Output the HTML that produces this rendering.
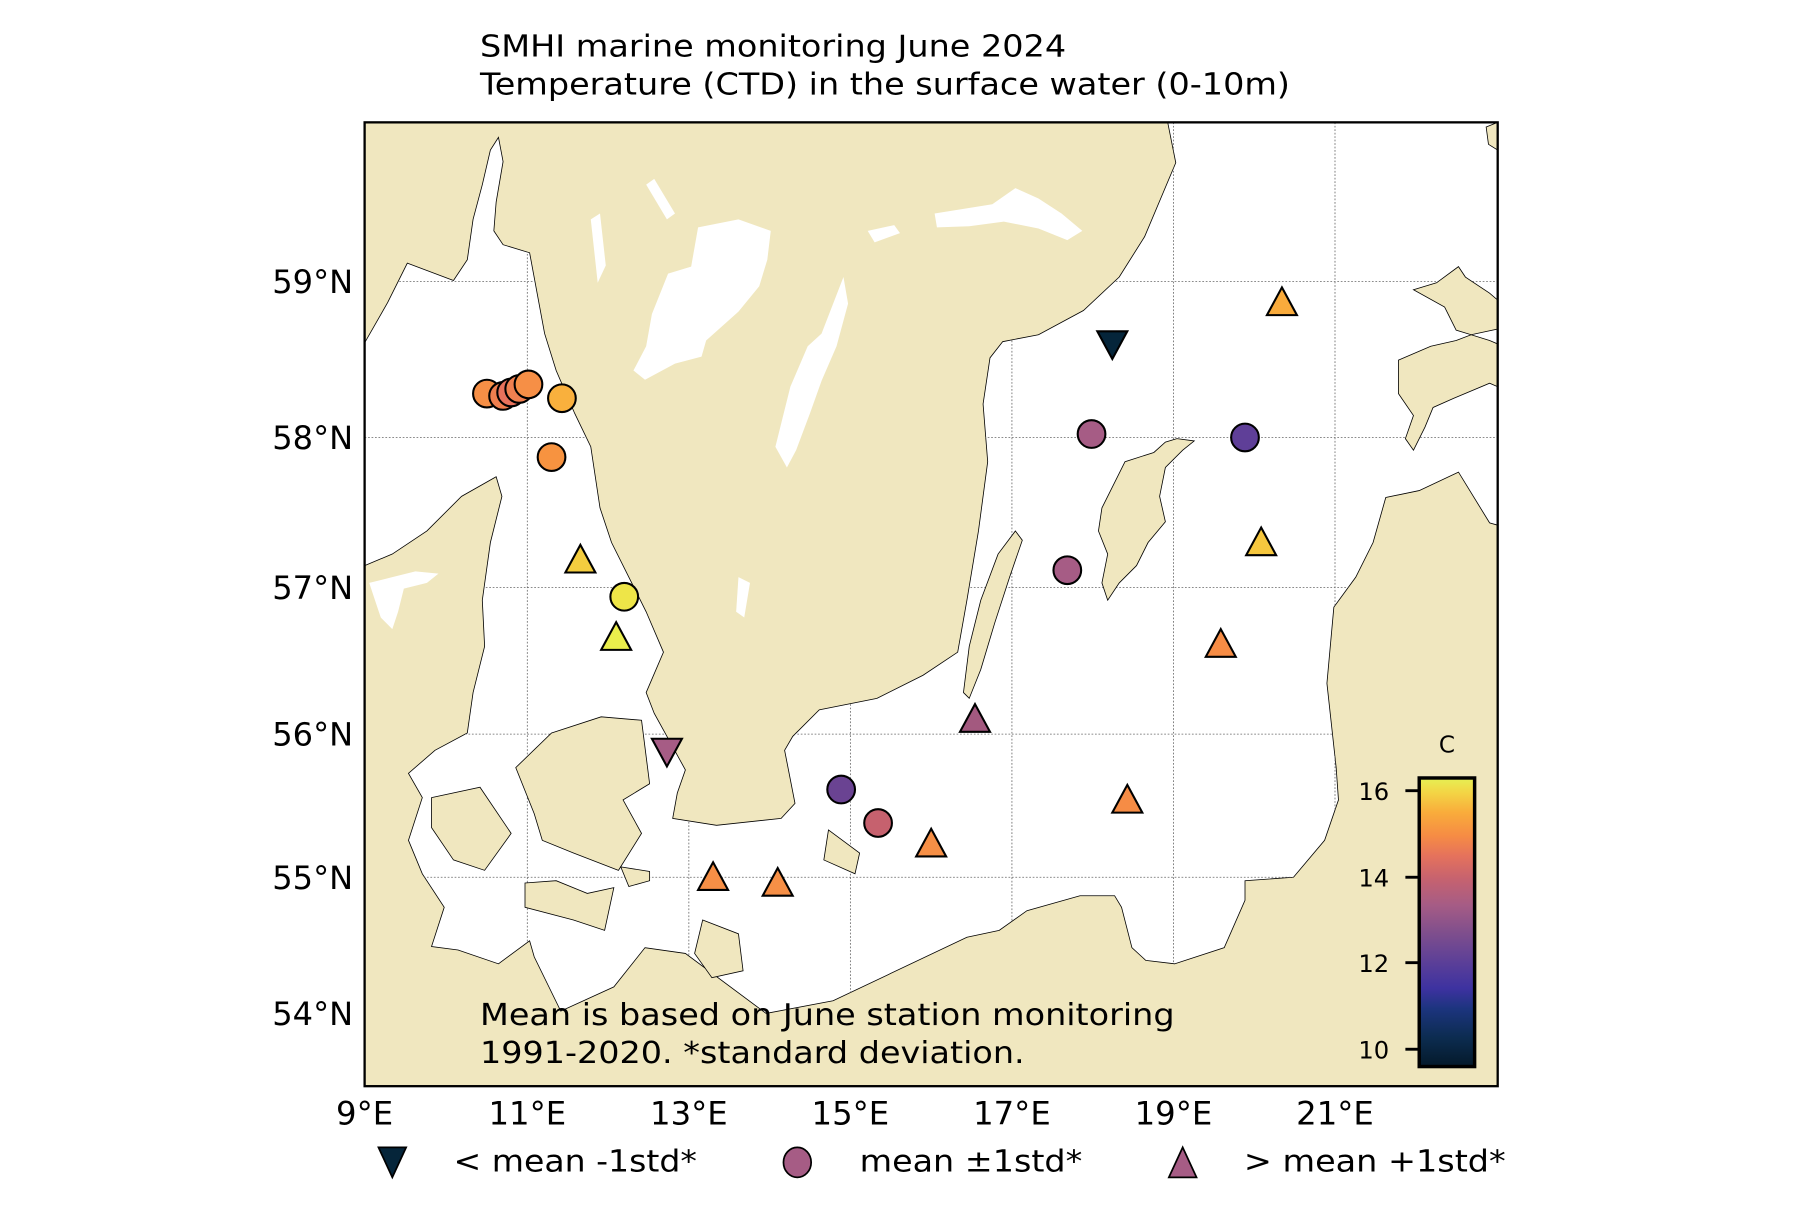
<!DOCTYPE html>
<html><head><meta charset="utf-8"><style>
html,body{margin:0;padding:0;background:#fff;}
svg{display:block;}
text{font-family:"DejaVu Sans","Liberation Sans",sans-serif;fill:#000;}
</style></head><body>
<svg width="1800" height="1227" viewBox="0 0 1560 1063" preserveAspectRatio="none" xmlns="http://www.w3.org/2000/svg">
<defs>
<clipPath id="frame"><rect x="316" y="106" width="982" height="835"/></clipPath>
<clipPath id="seaclip"><polygon id="seapts" points="316,297 336,262 353,228 393,243 405,225 410,190 418,160 425,130 432,119 436,140 430,175 428,200 436,212 459,219 472,289 482,321 498,358 512,387 520,440 530,470 545,500 560,530 575,565 560,600 567,618 583,647 594,667 587,687 583,709 621,715 677,709 689,696 680,650 687,638 710,615 760,605 800,585 830,565 838,520 848,460 856,400 852,350 858,310 869,296 900,290 939,269 970,240 992,205 1019,141 1012,106 1298,106 1298,455 1291,453 1264,409 1230,425 1201,431 1190,470 1175,500 1156,526 1150,592 1158,665 1160,693 1148,728 1121,760 1079,763 1079,780 1061,821 1018,835 993,832 981,821 972,786 966,776 936,776 890,789 866,806 838,812 722,867 664,878 594,826 559,821 532,855 486,876 463,829 459,815 432,835 397,823 374,820 385,786 366,757 354,728 366,691 354,670 377,650 405,635 410,600 420,560 418,520 425,470 435,430 430,413 400,430 370,460 340,480 316,490"/></clipPath>
<linearGradient id="cb" x1="0" y1="1" x2="0" y2="0">
<stop offset="0" stop-color="#04192a"/>
<stop offset="0.1" stop-color="#0c2c50"/>
<stop offset="0.2" stop-color="#1c347e"/>
<stop offset="0.27" stop-color="#3d32a0"/>
<stop offset="0.36" stop-color="#5b3f98"/>
<stop offset="0.46" stop-color="#7e4e8d"/>
<stop offset="0.56" stop-color="#a65c85"/>
<stop offset="0.65" stop-color="#c6626f"/>
<stop offset="0.73" stop-color="#e5725c"/>
<stop offset="0.8" stop-color="#f68c44"/>
<stop offset="0.88" stop-color="#f9ac3b"/>
<stop offset="0.95" stop-color="#f3d545"/>
<stop offset="1" stop-color="#e6f054"/>
</linearGradient>
</defs>
<rect width="1560" height="1063" fill="#fff"/>
<g clip-path="url(#frame)">
<rect x="316" y="106" width="982" height="835" fill="#f0e7bf"/>
<use href="#seapts" fill="#fff" stroke="#000" stroke-width="0.7"/>
<g clip-path="url(#seaclip)" stroke="#666" stroke-width="0.7" stroke-dasharray="1.5,1.5">
<line x1="457" y1="106" x2="457" y2="941"/><line x1="597" y1="106" x2="597" y2="941"/>
<line x1="737" y1="106" x2="737" y2="941"/><line x1="877" y1="106" x2="877" y2="941"/>
<line x1="1017" y1="106" x2="1017" y2="941"/><line x1="1157" y1="106" x2="1157" y2="941"/>
<line x1="316" y1="244" x2="1298" y2="244"/><line x1="316" y1="379" x2="1298" y2="379"/>
<line x1="316" y1="509" x2="1298" y2="509"/><line x1="316" y1="636" x2="1298" y2="636"/>
<line x1="316" y1="760" x2="1298" y2="760"/><line x1="316" y1="878" x2="1298" y2="878"/>
</g>
<g fill="#f0e7bf" stroke="#000" stroke-width="0.7">
<polygon points="478,635 521,621 556,624 563,679 540,693 556,722 536,754 497,739 470,728 463,705 447,665"/>
<polygon points="374,691 416,682 443,722 420,754 393,745 374,717"/>
<polygon points="455,765 482,763 509,774 532,769 524,806 497,797 455,786"/>
<polygon points="538,751 563,755 563,763 545,768"/>
<polygon points="718,719 745,739 741,757 714,745"/>
<polygon points="609,797 640,809 644,841 617,847 602,826"/>
<polygon points="880,460 886,468 875,500 862,540 850,580 840,605 835,600 840,560 850,520 865,480"/>
<polygon points="955,440 975,400 1000,392 1010,383 1020,380 1035,382 1025,390 1010,405 1005,430 1010,452 995,470 985,490 970,505 960,520 955,505 960,480 952,460"/>
<polygon points="1225,251 1245,245 1264,231 1270,240 1291,254 1298,260 1298,285 1275,290 1262,286 1252,266"/>
<polygon points="1212,312 1240,300 1262,295 1275,290 1291,295 1298,298 1298,335 1291,332 1260,345 1242,353 1235,370 1225,390 1218,380 1225,360 1212,341"/>
<polygon points="1288,110 1298,106 1298,130 1290,125"/>
</g>
<g fill="#fff">
<polygon points="605,197 640,190 668,200 665,225 658,248 640,270 612,295 608,309 585,315 559,329 549,321 560,300 565,272 579,237 599,231"/>
<polygon points="731,240 735,263 725,300 712,330 702,358 690,390 682,405 672,387 685,335 700,300 712,289"/>
<polygon points="810,185 860,177 880,163 900,172 920,185 938,200 925,208 900,198 870,192 840,196 812,197"/>
<polygon points="752,200 775,195 780,202 758,210"/>
<polygon points="560,160 567,155 585,185 578,190"/>
<polygon points="512,190 520,185 525,230 518,245"/>
<polygon points="320,505 340,500 360,495 380,497 370,505 350,510 345,530 340,545 330,535 325,520"/>
<polygon points="640,500 650,505 645,535 638,530"/>
</g>
</g>
<rect x="316" y="106" width="982" height="835" fill="none" stroke="#000" stroke-width="2"/>
<g stroke="#000" stroke-width="1.8">
<circle cx="422" cy="341" r="12" fill="#f68f46"/>
<circle cx="436" cy="343" r="12" fill="#ee7e4e"/>
<circle cx="443" cy="340" r="12" fill="#e8725c"/>
<circle cx="450" cy="337" r="12" fill="#ef8050"/>
<circle cx="458" cy="333" r="12" fill="#f68f46"/>
<circle cx="487" cy="345" r="12" fill="#f9b03d"/>
<circle cx="478" cy="396" r="12" fill="#f79340"/>
<circle cx="541" cy="517" r="12" fill="#eee548"/>
<circle cx="946" cy="376" r="12" fill="#a65c85"/>
<circle cx="1079" cy="379" r="12" fill="#5f3f98"/>
<circle cx="925" cy="494" r="12" fill="#a65c85"/>
<circle cx="729" cy="684" r="12" fill="#6a4392"/>
<circle cx="761" cy="713" r="12" fill="#c6616e"/>
<polygon points="503,472 516,496 490,496" fill="#f4cd3f"/>
<polygon points="534,539 547,563 521,563" fill="#eaee4c"/>
<polygon points="1111,249 1124,273 1098,273" fill="#f9ab3c"/>
<polygon points="1093,457 1106,481 1080,481" fill="#f6c73e"/>
<polygon points="1058,545 1071,569 1045,569" fill="#f68c45"/>
<polygon points="845,610 858,634 832,634" fill="#a3597f"/>
<polygon points="977,680 990,704 964,704" fill="#f68c45"/>
<polygon points="807,718 820,742 794,742" fill="#f68f46"/>
<polygon points="618,747 631,771 605,771" fill="#f68f46"/>
<polygon points="674,752 687,776 661,776" fill="#f68f46"/>
<polygon points="964,311 977,287 951,287" fill="#05253a"/>
<polygon points="578,664 591,640 565,640" fill="#a65c85"/>
</g>
<text x="416" y="49" font-size="26" textLength="508" lengthAdjust="spacingAndGlyphs">SMHI marine monitoring June 2024</text>
<text x="416" y="82" font-size="26" textLength="702" lengthAdjust="spacingAndGlyphs">Temperature (CTD) in the surface water (0-10m)</text>
<text x="416" y="888" font-size="26" textLength="602" lengthAdjust="spacingAndGlyphs">Mean is based on June station monitoring</text>
<text x="416" y="921" font-size="26" textLength="472" lengthAdjust="spacingAndGlyphs">1991-2020. *standard deviation.</text>
<g font-size="28" text-anchor="end">
<text x="306" y="254" textLength="70" lengthAdjust="spacingAndGlyphs">59°N</text><text x="306" y="389" textLength="70" lengthAdjust="spacingAndGlyphs">58°N</text><text x="306" y="519" textLength="70" lengthAdjust="spacingAndGlyphs">57°N</text>
<text x="306" y="646" textLength="70" lengthAdjust="spacingAndGlyphs">56°N</text><text x="306" y="770" textLength="70" lengthAdjust="spacingAndGlyphs">55°N</text><text x="306" y="888" textLength="70" lengthAdjust="spacingAndGlyphs">54°N</text>
</g>
<g font-size="28" text-anchor="middle">
<text x="316" y="974">9°E</text><text x="457" y="974">11°E</text><text x="597" y="974">13°E</text>
<text x="737" y="974">15°E</text><text x="877" y="974">17°E</text><text x="1017" y="974">19°E</text><text x="1157" y="974">21°E</text>
</g>
<g stroke="#000" stroke-width="1.5">
<polygon points="340,1020 352,994 328,994" fill="#05253a"/>
<ellipse cx="691" cy="1007" rx="12" ry="13" fill="#a65c85"/>
<polygon points="1025,994 1037,1020 1013,1020" fill="#a65c85"/>
</g>
<g font-size="26">
<text x="393" y="1015" textLength="211" lengthAdjust="spacingAndGlyphs">&lt; mean -1std*</text>
<text x="745" y="1015" textLength="193" lengthAdjust="spacingAndGlyphs">mean ±1std*</text>
<text x="1078" y="1015" textLength="227" lengthAdjust="spacingAndGlyphs">&gt; mean +1std*</text>
</g>
<rect x="1230" y="674" width="48" height="250" fill="url(#cb)" stroke="#000" stroke-width="3"/>
<g stroke="#000" stroke-width="2.5">
<line x1="1218" y1="685" x2="1230" y2="685"/><line x1="1218" y1="760" x2="1230" y2="760"/>
<line x1="1218" y1="834" x2="1230" y2="834"/><line x1="1218" y1="909" x2="1230" y2="909"/>
</g>
<g font-size="21" text-anchor="end">
<text x="1204" y="693">16</text><text x="1204" y="768">14</text><text x="1204" y="842">12</text><text x="1204" y="917">10</text>
</g>
<text x="1254" y="652" font-size="20" text-anchor="middle">C</text>
</svg>
</body></html>
